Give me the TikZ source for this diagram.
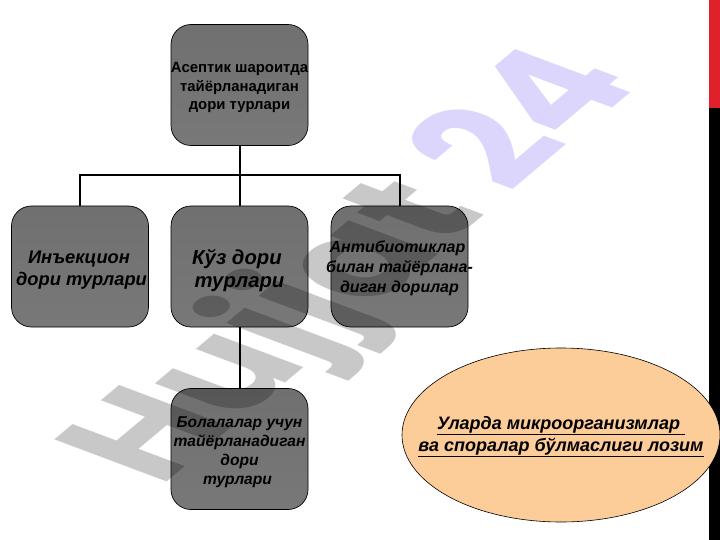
\documentclass[tikz,border=0pt]{standalone}
\usepackage{fontspec}
\usetikzlibrary{shapes.geometric}
\setmainfont{Liberation Sans}
\newfontfamily\markfont{Poppins}
\definecolor{boxtop}{HTML}{707070}
\definecolor{boxbot}{HTML}{787878}
\definecolor{peach}{HTML}{FCCC99}
\definecolor{wmgrey}{HTML}{C8C8C8}
\definecolor{wmlilac}{HTML}{DDD6FC}
\definecolor{barred}{HTML}{E0202A}
\tikzset{
  box/.style={draw=black,line width=0.7pt,rounded corners=20pt,top color=boxtop,bottom color=boxbot,
    minimum width=137pt,minimum height=121pt,inner sep=0pt},
  lab/.style={align=center,text=black,inner sep=0pt},
  link/.style={draw=black,line width=2pt},
}
\begin{document}
\begin{tikzpicture}[x=1pt,y=-1pt]
\useasboundingbox (0,0) rectangle (720,540);
\fill[white] (0,0) rectangle (720,540);
\fill[barred] (709,0) rectangle (720,108);
\fill[black] (709,108) rectangle (720,540);
\node[box,label={[lab,name=topt,yshift=-2.5pt,font=\fontsize{14.9}{18.5}\selectfont\bfseries]center:{Асептик шароитда\\тайёрланадиган\\дори турлари}}] (top) at (239.5,85) {};
\node[box,label={[lab,name=injt,yshift=-4pt,font=\fontsize{18.3}{22}\selectfont\bfseries\itshape]center:{Инъекцион\hspace*{2pt}\\\hspace*{3pt}дори турлари}}] (inj) at (80,266.5) {};
\node[box,label={[lab,name=eyet,yshift=-4pt,font=\fontsize{20.3}{23}\selectfont\bfseries\itshape]center:{Кўз дори\hspace*{5pt}\\турлари}}] (eye) at (239.5,266.5) {};
\node[box,label={[lab,name=antit,yshift=-2pt,font=\fontsize{16}{20}\selectfont\bfseries\itshape]center:{Антибиотиклар\hspace*{4pt}\\билан тайёрлана-\\диган дорилар}}] (anti) at (399.5,266.5) {};
\node[box,label={[lab,name=kidst,yshift=-3pt,font=\fontsize{15.6}{19}\selectfont\bfseries\itshape]center:{Болалалар учун\\тайёрланадиган\\дори\\турлари\hspace*{4pt}}}] (kids) at (239.5,449) {};
\node[draw=black,line width=0.6pt,fill=peach,ellipse,minimum width=318pt,minimum height=174pt,inner sep=0pt,
  label={[lab,name=notet,yshift=-1.5pt,font=\fontsize{18}{22}\selectfont\bfseries\itshape]center:{\underline{Уларда микроорганизмлар\ }\\\underline{ва споралар бўлмаслиги лозим}}}] (note) at (561,435) {};
\coordinate (bus) at (240,175);
\draw[link] (top.south) -- (eye.north);
\draw[link] (inj.north) |- (bus) -| (anti.north);
\draw[link] (eye.south) -- (kids.north);
\begin{scope}[blend mode=multiply]
\node[inner sep=0pt,anchor=base west,transform shape,font=\fontsize{100}{100}\markfont\bfseries,
  shift={(160,488)},cm={1.065,0.895,-1.6,0.6,(0,0)}] (mark) at (0,0)
  {\textcolor{wmgrey}{Hujjat} \textcolor{wmlilac}{24}};
\end{scope}
\end{tikzpicture}
\end{document}
